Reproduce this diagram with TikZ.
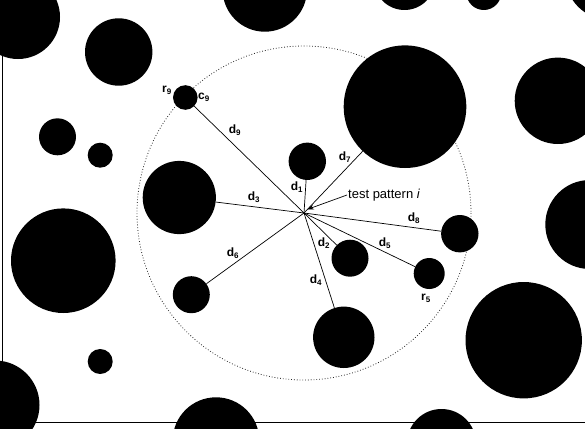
\documentclass[tikz,border=0pt]{standalone}
\usepackage{fontspec}
\setmainfont{Liberation Sans}
\usetikzlibrary{arrows.meta}
\newcommand{\sublab}[2]{\textbf{#1\textsubscript{#2}}}

\begin{document}
\begin{tikzpicture}[x=1pt,y=-1pt,
  blob/.style={
    circle,
    fill=black,
    inner sep=0pt,
    minimum size=#1
  },
  dist/.style={line width=0.7pt},
  tag/.style={inner sep=0pt, font=\fontsize{12}{13}\selectfont}
]
 \useasboundingbox (0,0) rectangle (585,428);
 \clip (0,0) rectangle (585,428);
 \coordinate (tp) at (304,213);
 \draw[dotted, line width=0.8pt, black!85] (tp) circle (167);
 % background particles
 \node[blob=84] (p1) at (18,17) {};
 \node[blob=67.4] (p2) at (118.7,52) {};
 \node[blob=84.4] (p3) at (264.8,-10.5) {};
 \node[blob=61.6] (p4) at (404.5,-20.8) {};
 \node[blob=35] (p5) at (483.8,-7.5) {};
 \node[blob=90] (p6) at (610,-25) {};
 \node[blob=37] (p7) at (57.5,136.8) {};
 \node[blob=25] (p8) at (100.2,155.2) {};
 \node[blob=86.4] (p9) at (557.9,100.8) {};
 \node[blob=89] (p10) at (589.8,224.5) {};
 \node[blob=104.6] (p11) at (63.3,260.7) {};
 \node[blob=25] (p12) at (100.2,361.5) {};
 \node[blob=89] (p13) at (-5,405) {};
 \node[blob=86.6] (p14) at (216,440.6) {};
 \node[blob=116.4] (p15) at (523.7,340.2) {};
 \node[blob=69] (p16) at (441.5,443.5) {};
 % neighbours of the test pattern
 \node[blob=37.4] (n1) at (307.3,161.3) {};
 \node[blob=37] (n2) at (350,258.2) {};
 \node[blob=73.2] (n3) at (179.3,197.5) {};
 \node[blob=61.4] (n4) at (343.8,337.3) {};
 \node[blob=31] (n5) at (429.2,273.5) {};
 \node[blob=37] (n6) at (191.3,294.7) {};
 \node[blob=122.6] (n7) at (405,106.7) {};
 \node[blob=37.4] (n8) at (459.8,233.7) {};
 \node[blob=24.6] (n9) at (185.3,97.5) {};
 \draw[dist] (tp)--(n1);
 \draw[dist] (tp)--(n2);
 \draw[dist] (tp)--(n3);
 \draw[dist] (tp)--(n4);
 \draw[dist] (tp)--(n5);
 \draw[dist] (tp)--(n6);
 \draw[dist] (tp)--(n7);
 \draw[dist] (tp)--(n8);
 \draw[dist] (tp)--(n9);
 \node[tag] (l1) at (297,187) {\sublab{d}{1}};
 \node[tag] (l2) at (324,243) {\sublab{d}{2}};
 \node[tag] (l3) at (254,197) {\sublab{d}{3}};
 \node[tag] (l4) at (316,280) {\sublab{d}{4}};
 \node[tag] (l5) at (385,243) {\sublab{d}{5}};
 \node[tag] (l6) at (233,253) {\sublab{d}{6}};
 \node[tag] (l7) at (345,157) {\sublab{d}{7}};
 \node[tag] (l8) at (414,218) {\sublab{d}{8}};
 \node[tag] (l9) at (235,130) {\sublab{d}{9}};
 \node[tag] (r9) at (167,90) {\sublab{r}{9}};
 \node[tag] (c9) at (204,97) {\sublab{c}{9}};
 \node[tag] (r5) at (426,298) {\sublab{r}{5}};
 \node[anchor=west, inner sep=1pt, font=\fontsize{13}{14}\selectfont] (test) at (347,195) {test pattern \textit{i}};
 \coordinate (tip) at (307,209.5);
 \draw[line width=0.7pt, -{Stealth[length=7pt,width=5pt]}] (test.west)--(tip);
 % frame
 \draw[line width=0.9pt] (2.7,-5) -- (2.7,422.3) -- (590,422.3);
\end{tikzpicture}
\end{document}
